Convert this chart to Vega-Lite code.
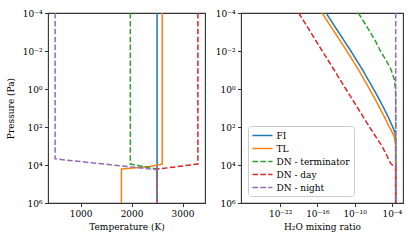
{
  "$schema": "https://vega.github.io/schema/vega-lite/v6.json",
  "padding": {"left": 5, "top": 8, "right": 10, "bottom": 0},
  "spacing": 6,
  "config": {
    "font": "DejaVu Serif",
    "view": {"stroke": "#333333", "strokeWidth": 1.1},
    "axis": {"grid": false, "domain": false, "tickColor": "#333333", "tickSize": 3.5, "tickWidth": 1, "labelFontSize": 9, "titleFontSize": 9, "titleFontWeight": "normal", "labelColor": "#000000", "titleColor": "#000000", "labelPadding": 2.5, "titlePadding": 4},
    "axisY": {"minExtent": 28, "maxExtent": 28, "titlePadding": 4.5},
    "legend": {"orient": "bottom-left", "offset": 7, "padding": 3.5, "strokeColor": "#cccccc", "fillColor": "rgba(255,255,255,0.8)", "cornerRadius": 3, "labelFontSize": 9, "labelColor": "#000000", "symbolType": "M-1,0H3", "symbolSize": 100, "symbolStrokeWidth": 1.5, "rowPadding": 2, "labelOffset": 13}
  },
  "datasets": {
    "temp": [
      {"series": "FI", "T": 2500, "P": 0.0001},
      {"series": "FI", "T": 2500, "P": 1000000},
      {"series": "TL", "T": 2600, "P": 0.0001},
      {"series": "TL", "T": 2600, "P": 8913},
      {"series": "TL", "T": 2380, "P": 11749},
      {"series": "TL", "T": 1800, "P": 16218},
      {"series": "TL", "T": 1800, "P": 1000000},
      {"series": "DN - terminator", "T": 1975, "P": 0.0001},
      {"series": "DN - terminator", "T": 1975, "P": 8913},
      {"series": "DN - terminator", "T": 2500, "P": 16596},
      {"series": "DN - terminator", "T": 2500, "P": 1000000},
      {"series": "DN - day", "T": 3300, "P": 0.0001},
      {"series": "DN - day", "T": 3300, "P": 8913},
      {"series": "DN - day", "T": 2500, "P": 16596},
      {"series": "DN - day", "T": 2500, "P": 1000000},
      {"series": "DN - night", "T": 500, "P": 0.0001},
      {"series": "DN - night", "T": 500, "P": 4786},
      {"series": "DN - night", "T": 2500, "P": 17783},
      {"series": "DN - night", "T": 2500, "P": 1000000}
    ],
    "h2o": [
      {"series": "FI", "X": 2.51e-15, "P": 0.0001},
      {"series": "FI", "X": 2.51e-13, "P": 0.001},
      {"series": "FI", "X": 2.51e-11, "P": 0.01},
      {"series": "FI", "X": 2.0e-9, "P": 0.1},
      {"series": "FI", "X": 1.12e-7, "P": 1},
      {"series": "FI", "X": 7.94e-7, "P": 3.162},
      {"series": "FI", "X": 5.01e-6, "P": 10},
      {"series": "FI", "X": 2.82e-5, "P": 31.62},
      {"series": "FI", "X": 1.41e-4, "P": 100},
      {"series": "FI", "X": 3.16e-4, "P": 199.5},
      {"series": "FI", "X": 4.2e-4, "P": 398.1},
      {"series": "FI", "X": 4.2e-4, "P": 1000000},
      {"series": "TL", "X": 5.62e-16, "P": 0.0001},
      {"series": "TL", "X": 5.62e-14, "P": 0.001},
      {"series": "TL", "X": 5.62e-12, "P": 0.01},
      {"series": "TL", "X": 4.47e-10, "P": 0.1},
      {"series": "TL", "X": 2.51e-8, "P": 1},
      {"series": "TL", "X": 1.78e-7, "P": 3.162},
      {"series": "TL", "X": 1.12e-6, "P": 10},
      {"series": "TL", "X": 7.08e-6, "P": 31.62},
      {"series": "TL", "X": 3.98e-5, "P": 100},
      {"series": "TL", "X": 1.26e-4, "P": 199.5},
      {"series": "TL", "X": 2.82e-4, "P": 398.1},
      {"series": "TL", "X": 4.2e-4, "P": 1000},
      {"series": "TL", "X": 4.2e-4, "P": 1000000},
      {"series": "DN - terminator", "X": 3.98e-10, "P": 0.0001},
      {"series": "DN - terminator", "X": 3.55e-9, "P": 0.0003162},
      {"series": "DN - terminator", "X": 3.16e-8, "P": 0.001},
      {"series": "DN - terminator", "X": 2.51e-7, "P": 0.003162},
      {"series": "DN - terminator", "X": 1.41e-6, "P": 0.01},
      {"series": "DN - terminator", "X": 1.26e-5, "P": 0.03162},
      {"series": "DN - terminator", "X": 7.94e-5, "P": 0.1},
      {"series": "DN - terminator", "X": 2.51e-4, "P": 0.3162},
      {"series": "DN - terminator", "X": 3.8e-4, "P": 1},
      {"series": "DN - terminator", "X": 4.2e-4, "P": 2},
      {"series": "DN - terminator", "X": 4.2e-4, "P": 1000000},
      {"series": "DN - day", "X": 1e-19, "P": 0.0001},
      {"series": "DN - day", "X": 7.94e-18, "P": 0.001},
      {"series": "DN - day", "X": 6.31e-16, "P": 0.01},
      {"series": "DN - day", "X": 5.01e-14, "P": 0.1},
      {"series": "DN - day", "X": 3.98e-12, "P": 1},
      {"series": "DN - day", "X": 3.16e-10, "P": 10},
      {"series": "DN - day", "X": 2.51e-8, "P": 100},
      {"series": "DN - day", "X": 2.51e-6, "P": 1000},
      {"series": "DN - day", "X": 1.58e-5, "P": 3162},
      {"series": "DN - day", "X": 3.98e-5, "P": 6310},
      {"series": "DN - day", "X": 7.94e-5, "P": 8913},
      {"series": "DN - day", "X": 1.58e-4, "P": 10471},
      {"series": "DN - day", "X": 4.2e-4, "P": 12023},
      {"series": "DN - day", "X": 4.2e-4, "P": 1000000},
      {"series": "DN - night", "X": 4.2e-4, "P": 0.0001},
      {"series": "DN - night", "X": 4.2e-4, "P": 1000000}
    ]
  },
  "hconcat": [
    {
      "width": 157,
      "height": 190,
      "data": {"name": "temp"},
      "mark": {"type": "line", "strokeWidth": 1.5},
      "encoding": {
        "x": {"field": "T", "type": "quantitative", "scale": {"domain": [360, 3440], "nice": false, "zero": false}, "axis": {"title": "Temperature (K)", "values": [1000, 2000, 3000], "format": "d"}},
        "y": {"field": "P", "type": "quantitative", "scale": {"type": "log", "domain": [0.0001, 1000000], "reverse": true, "nice": false}, "axis": {"title": "Pressure (Pa)", "values": [0.0001, 0.01, 1, 100, 10000, 1000000], "labelExpr": "round(log(datum.value)/LN10) == -4 ? '10⁻⁴' : round(log(datum.value)/LN10) == -2 ? '10⁻²' : round(log(datum.value)/LN10) == 0 ? '10⁰' : round(log(datum.value)/LN10) == 2 ? '10²' : round(log(datum.value)/LN10) == 4 ? '10⁴' : '10⁶'"}},
        "color": {"field": "series", "type": "nominal", "scale": {"domain": ["FI", "TL", "DN - terminator", "DN - day", "DN - night"], "range": ["#1f77b4", "#ff7f0e", "#2ca02c", "#d62728", "#9467bd"]}, "legend": null},
        "strokeDash": {"field": "series", "type": "nominal", "scale": {"domain": ["FI", "TL", "DN - terminator", "DN - day", "DN - night"], "range": [[1, 0], [1, 0], [5.5, 2.4], [5.5, 2.4], [5.5, 2.4]]}, "legend": null},
        "order": {"field": "P", "type": "quantitative"}
      }
    },
    {
      "width": 162,
      "height": 190,
      "data": {"name": "h2o"},
      "mark": {"type": "line", "strokeWidth": 1.5},
      "encoding": {
        "x": {"field": "X", "type": "quantitative", "scale": {"type": "log", "domain": [5.01e-29, 0.00631], "nice": false}, "axis": {"title": "H₂O mixing ratio", "values": [1e-22, 1e-16, 1e-10, 0.0001], "labelExpr": "round(log(datum.value)/LN10) == -22 ? '10⁻²²' : round(log(datum.value)/LN10) == -16 ? '10⁻¹⁶' : round(log(datum.value)/LN10) == -10 ? '10⁻¹⁰' : '10⁻⁴'"}},
        "y": {"field": "P", "type": "quantitative", "scale": {"type": "log", "domain": [0.0001, 1000000], "reverse": true, "nice": false}, "axis": {"title": null, "values": [0.0001, 0.01, 1, 100, 10000, 1000000], "labelExpr": "round(log(datum.value)/LN10) == -4 ? '10⁻⁴' : round(log(datum.value)/LN10) == -2 ? '10⁻²' : round(log(datum.value)/LN10) == 0 ? '10⁰' : round(log(datum.value)/LN10) == 2 ? '10²' : round(log(datum.value)/LN10) == 4 ? '10⁴' : '10⁶'"}},
        "color": {"field": "series", "type": "nominal", "scale": {"domain": ["FI", "TL", "DN - terminator", "DN - day", "DN - night"], "range": ["#1f77b4", "#ff7f0e", "#2ca02c", "#d62728", "#9467bd"]}, "legend": {"title": null}},
        "strokeDash": {"field": "series", "type": "nominal", "scale": {"domain": ["FI", "TL", "DN - terminator", "DN - day", "DN - night"], "range": [[1, 0], [1, 0], [5.5, 2.4], [5.5, 2.4], [5.5, 2.4]]}, "legend": {"title": null}},
        "order": {"field": "P", "type": "quantitative"}
      }
    }
  ],
  "resolve": {"legend": {"color": "independent", "strokeDash": "independent"}, "scale": {"y": "independent", "x": "independent"}}
}
